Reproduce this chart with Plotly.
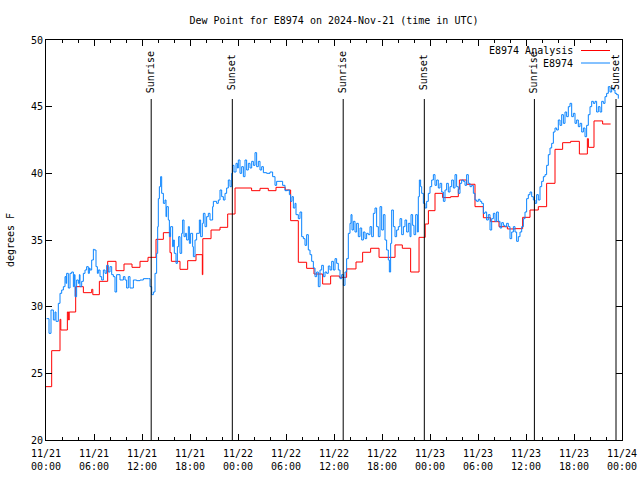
import pandas as pd
import plotly.graph_objects as go

BASE = pd.Timestamp("2024-11-21 00:00")

# Observed dew point (E8974), hours since 2024-11-21 00:00 UTC
obs_hours = [
    0.08, 0.375, 0.625, 0.92, 1.125, 1.25, 1.54, 1.75, 1.96, 2.17, 2.375, 2.5, 2.58, 2.79, 3.0, 3.21, 3.42, 3.54,
    3.625, 3.83, 4.04, 4.17, 4.25, 4.46, 4.67, 4.875, 5.08, 5.29, 5.42, 5.5, 5.71, 5.92, 6.04, 6.25, 6.42, 6.54,
    6.75, 6.96, 7.17, 7.375, 7.58, 7.79, 8.0, 8.21, 8.42, 8.625, 8.83, 9.25, 9.67, 9.875, 10.08, 10.29, 10.5,
    10.92, 11.33, 11.75, 12.17, 12.79, 13.0, 13.21, 13.42, 13.625, 13.83, 13.96, 14.04, 14.17, 14.33, 14.46,
    14.67, 14.875, 15.0, 15.08, 15.29, 15.42, 15.58, 15.83, 15.92, 16.04, 16.25, 16.42, 16.58, 16.75, 16.96,
    17.08, 17.25, 17.42, 17.58, 17.79, 17.92, 18.08, 18.33, 18.42, 18.625, 18.83, 19.17, 19.33, 19.54, 19.67,
    19.875, 20.08, 20.29, 20.5, 20.83, 20.92, 21.33, 21.54, 21.75, 21.96, 22.17, 22.375, 22.58, 22.79, 23.0,
    23.21, 23.33, 23.5, 23.75, 23.92, 24.04, 24.25, 24.46, 24.67, 24.875, 25.08, 25.29, 25.5, 25.71, 25.92,
    26.125, 26.33, 26.54, 26.75, 26.96, 27.17, 27.58, 28.0, 28.33, 28.625, 28.83, 29.25, 29.58, 29.875, 30.17,
    30.42, 30.58, 30.75, 30.92, 31.125, 31.25, 31.54, 31.75, 31.96, 32.17, 32.375, 32.58, 32.79, 33.0, 33.21,
    33.42, 33.625, 33.83, 34.04, 34.25, 34.46, 34.67, 34.875, 35.08, 35.29, 35.5, 35.71, 35.92, 36.125, 36.33,
    36.54, 36.75, 36.96, 37.17, 37.375, 37.58, 37.79, 38.0, 38.125, 38.25, 38.42, 38.625, 38.83, 39.04, 39.25,
    39.46, 39.67, 39.875, 40.08, 40.29, 40.5, 40.71, 40.92, 41.125, 41.33, 41.54, 41.75, 41.96, 42.17, 42.375,
    42.58, 42.79, 42.92, 43.08, 43.21, 43.42, 43.625, 43.83, 44.04, 44.25, 44.46, 44.67, 44.875, 45.08, 45.29,
    45.5, 45.625, 45.83, 46.0, 46.21, 46.42, 46.54, 46.67, 46.83, 46.96, 47.17, 47.375, 47.58, 47.79, 48.0,
    48.21, 48.42, 48.625, 48.83, 49.04, 49.25, 49.46, 49.67, 49.875, 50.08, 50.29, 50.5, 50.71, 50.92, 51.125,
    51.33, 51.54, 51.75, 51.96, 52.17, 52.375, 52.58, 52.79, 53.0, 53.21, 53.42, 53.625, 53.83, 54.04, 54.25,
    54.46, 54.67, 54.875, 55.08, 55.29, 55.5, 55.71, 55.92, 56.125, 56.33, 56.54, 56.75, 56.96, 57.17, 57.375,
    57.58, 57.79, 58.0, 58.21, 58.42, 58.625, 58.83, 59.04, 59.25, 59.46, 59.67, 59.875, 60.08, 60.29, 60.5,
    60.71, 60.92, 61.125, 61.33, 61.54, 61.75, 61.96, 62.17, 62.375, 62.58, 62.79, 63.0, 63.21, 63.42, 63.625,
    63.83, 64.04, 64.25, 64.46, 64.67, 64.875, 65.08, 65.29, 65.5, 65.71, 65.92, 66.125, 66.33, 66.54, 66.75,
    66.96, 67.17, 67.375, 67.58, 67.79, 68.0, 68.21, 68.42, 68.625, 68.83, 69.04, 69.25, 69.46, 69.67, 69.875,
    70.08, 70.29, 70.5, 70.71, 70.92, 71.125, 71.33, 71.54,
]
obs_dewpt = [
    29.1, 28.0, 29.75, 29.0, 29.6, 28.9, 30.25, 31.0, 31.25, 31.5, 32.25, 31.75, 32.5, 31.4, 32.5, 32.6, 31.5, 32.4,
    30.75, 32.0, 31.75, 32.4, 31.5, 31.9, 32.5, 32.75, 33.0, 32.5, 32.9, 32.75, 33.5, 34.3, 34.25, 33.0, 32.5, 32.75,
    32.25, 32.0, 32.75, 32.5, 33.1, 32.6, 33.0, 32.4, 32.25, 31.1, 32.4, 32.0, 32.25, 32.0, 31.4, 32.25, 31.4,
    32.0, 31.95, 32.0, 32.1, 32.1, 31.5, 30.9, 31.1, 32.5, 34.0, 36.0, 38.1, 39.0, 39.75, 38.5,
    37.75, 38.0, 36.75, 37.5, 36.5, 35.25, 36.0, 34.5, 35.0, 34.0, 33.25, 34.5, 35.25, 34.0, 35.5,
    36.5, 35.25, 35.5, 35.0, 36.0, 34.75, 35.5, 34.5, 33.75, 35.0, 35.5, 36.5, 35.25, 36.25, 37.0,
    36.0, 36.75, 37.0, 36.5, 37.5, 37.9, 37.75, 38.0, 38.75, 38.25, 38.0, 38.5, 38.9, 39.5, 39.0,
    40.0, 40.6, 40.1, 40.75, 40.4, 41.0, 40.0, 40.5, 39.75, 41.0, 40.25, 40.75, 40.4, 40.9, 40.6,
    41.55, 40.5, 40.9, 40.25, 40.5, 40.05, 40.0, 40.1, 39.75, 39.1, 39.4, 39.4, 39.1, 38.7, 38.75,
    38.4, 37.9, 38.25, 37.4, 37.75, 36.9, 36.6, 37.1, 35.25, 35.1, 34.6, 35.4, 34.25, 33.9, 33.4,
    32.9, 32.25, 32.6, 31.5, 32.75, 33.1, 32.25, 32.6, 32.5, 33.05, 32.75, 33.4, 32.75, 33.6, 33.25,
    32.75, 32.1, 32.4, 31.6, 32.6, 33.6, 35.5, 36.25, 36.9, 35.75, 36.4, 35.6, 36.25, 35.25, 35.9,
    35.0, 35.6, 35.1, 35.5, 35.4, 36.0, 35.25, 37.0, 37.4, 36.0, 35.25, 37.5, 35.75, 36.9, 35.0,
    34.25, 33.5, 32.6, 34.75, 37.25, 36.0, 35.25, 35.75, 36.0, 36.6, 35.4, 36.0, 36.5, 35.6, 36.25,
    35.25, 36.9, 36.1, 35.4, 36.9, 35.6, 38.25, 39.5, 39.0, 38.5, 37.75, 37.4, 37.9, 38.5, 39.0,
    39.5, 39.9, 39.1, 39.5, 38.9, 39.25, 38.6, 37.9, 38.75, 39.25, 38.6, 39.0, 39.5, 38.9, 39.9,
    39.0, 38.5, 39.25, 39.5, 39.4, 39.1, 39.9, 39.25, 39.0, 39.1, 38.5, 38.0, 37.9, 38.05, 37.9,
    37.75, 37.0, 37.1, 36.5, 36.9, 35.75, 36.6, 37.0, 36.4, 37.1, 36.4, 35.9, 36.3, 36.1, 36.0,
    36.25, 36.0, 35.1, 35.6, 36.0, 35.6, 34.9, 35.25, 35.6, 36.0, 36.6, 37.1, 38.1, 38.4, 38.6,
    38.25, 38.0, 37.75, 38.4, 38.0, 39.0, 39.4, 39.75, 39.9, 40.6, 41.4, 41.9, 42.25, 43.1, 43.4,
    43.25, 44.0, 43.6, 44.4, 43.75, 44.6, 44.25, 45.0, 45.25, 44.25, 44.5, 43.75, 44.0, 43.5, 43.75,
    43.1, 43.4, 42.75, 43.6, 44.4, 45.0, 45.4, 45.25, 45.4, 44.6, 45.0, 44.6, 45.4, 45.25, 45.75,
    46.0, 46.5, 46.1, 46.4, 46.25, 46.0, 45.9, 45.6,
]

# Analysis dew point (E8974 Analysis), step changes
ana_hours = [
    0.0, 0.71, 1.75, 1.85, 2.67, 2.83, 2.9, 3.71, 4.67, 5.71, 5.85, 6.67, 7.71, 8.75, 9.75, 10.75, 11.75,
    12.75, 13.75, 14.67, 15.5, 15.67, 16.75, 17.71, 18.75, 19.54, 19.6, 20.63, 21.75, 22.71, 23.63, 25.7,
    26.75, 27.79, 28.75, 29.9, 30.58, 31.54, 32.58, 33.5, 34.58, 35.58, 36.67, 37.58, 38.75, 39.58, 40.58,
    41.63, 43.63, 44.54, 45.58, 46.63, 47.4, 47.8, 48.625, 49.58, 50.58, 51.54, 51.67, 52.58, 53.625,
    54.67, 55.58, 56.625, 57.67, 58.625, 59.58, 60.5, 61.54, 62.58, 63.625, 64.58, 65.58, 66.67, 67.67,
    67.8, 68.5, 69.58, 70.58,
]
ana_dewpt = [
    24.0, 26.7, 29.05, 28.25, 29.6, 29.0, 29.6, 31.5, 31.05, 31.3, 30.9, 31.9, 33.4, 32.7, 33.2, 32.95, 33.4,
    33.7, 35.05, 35.55, 34.05, 33.4, 32.8, 33.45, 33.9, 32.4, 35.1, 35.75, 35.95, 36.95, 38.9, 38.7,
    38.875, 38.7, 38.95, 38.75, 36.45, 33.33, 32.875, 32.45, 31.7, 32.3, 32.2, 32.83, 33.35, 34.08, 34.38,
    33.7, 34.63, 34.38, 32.6, 35.2, 36.2, 37.2, 38.5, 38.18, 38.25, 38.8, 39.5, 39.18, 37.5,
    36.67, 36.375, 36.0, 35.83, 35.85, 36.7, 37.25, 37.5, 39.25, 41.8, 42.3, 42.4, 41.45, 42.6,
    41.95, 43.93, 43.7, 43.7,
]

sunrise_hours = [13.15, 37.15, 61.05]
sunset_hours = [23.29, 47.29, 71.25]

tick_hours = list(range(0, 73, 6))
tick_labels = ["11/21<br>00:00", "11/21<br>06:00", "11/21<br>12:00", "11/21<br>18:00",
               "11/22<br>00:00", "11/22<br>06:00", "11/22<br>12:00", "11/22<br>18:00",
               "11/23<br>00:00", "11/23<br>06:00", "11/23<br>12:00", "11/23<br>18:00",
               "11/24<br>00:00"]

RED = "#ff0000"
BLUE = "#0a84ff"
FONT = "DejaVu Sans Mono"


def to_time(hours):
    return BASE + pd.to_timedelta(pd.Series(hours, dtype=float), unit="h")


fig = go.Figure()
fig.add_trace(go.Scatter(x=to_time(ana_hours), y=ana_dewpt, mode="lines", line_shape="hv",
                         line=dict(color=RED, width=1), name="E8974 Analysis", showlegend=False))
fig.add_trace(go.Scatter(x=to_time(obs_hours), y=obs_dewpt, mode="lines", line_shape="hv",
                         line=dict(color=BLUE, width=1), name="E8974", showlegend=False))

line_top = (440 - 99) / 400
for label, hours in (("Sunrise", sunrise_hours), ("Sunset", sunset_hours)):
    for t in to_time(hours):
        fig.add_shape(type="line", xref="x", yref="paper", x0=t, x1=t, y0=0, y1=line_top,
                      line=dict(color="black", width=1))
        fig.add_annotation(x=t, xref="x", y=(440 - 72) / 400, yref="paper", text=label,
                           textangle=-90, showarrow=False, xanchor="center", yanchor="middle",
                           font=dict(family=FONT, size=10, color="black"))

# gnuplot-style key: text left of the sample line
key_items = [("E8974 Analysis", RED, 50.5), ("E8974", BLUE, 63)]
for text, color, ypx in key_items:
    yp = (440 - ypx) / 400
    fig.add_annotation(x=(575 - 46) / 576, xref="paper", y=yp, yref="paper", text=text,
                       showarrow=False, xanchor="right", yanchor="middle",
                       font=dict(family=FONT, size=10, color="black"))
    fig.add_shape(type="line", xref="paper", yref="paper", x0=(581 - 46) / 576, x1=(610 - 46) / 576,
                  y0=yp, y1=yp, line=dict(color=color, width=1))

fig.update_layout(
    width=640, height=480,
    margin=dict(l=46, r=18, t=40, b=40, autoexpand=False),
    paper_bgcolor="white", plot_bgcolor="white",
    font=dict(family=FONT, size=10, color="black"),
    title=dict(text="Dew Point for E8974 on 2024-Nov-21 (time in UTC)", x=0.5, xref="paper",
               y=1 - 20 / 480, yanchor="middle", font=dict(family=FONT, size=10, color="black")),
    showlegend=False,
)
fig.update_xaxes(
    type="date", range=[BASE, BASE + pd.Timedelta(hours=72)], automargin=False,
    tickvals=list(to_time(tick_hours)), ticktext=tick_labels, ticklabelstandoff=4,
    ticks="inside", ticklen=6, tickcolor="black", showline=True, linecolor="black", linewidth=1,
    mirror="ticks", showgrid=False, zeroline=False,
    minor=dict(ticks="inside", ticklen=3, dtick=2 * 3600 * 1000, tick0=BASE, tickcolor="black", showgrid=False),
    tickfont=dict(family=FONT, size=10, color="black"),
)
fig.update_yaxes(
    range=[20, 50], dtick=5, tick0=20, automargin=False,
    ticks="inside", ticklen=6, tickcolor="black", showline=True, linecolor="black", linewidth=1,
    mirror="ticks", showgrid=False, zeroline=False,
    title=dict(text="degrees F", standoff=14, font=dict(family=FONT, size=10, color="black")),
    tickfont=dict(family=FONT, size=10, color="black"),
)

fig.write_html("out.html", config={"displayModeBar": False},
               post_script="document.body.style.margin='0';document.body.style.overflow='hidden';")
